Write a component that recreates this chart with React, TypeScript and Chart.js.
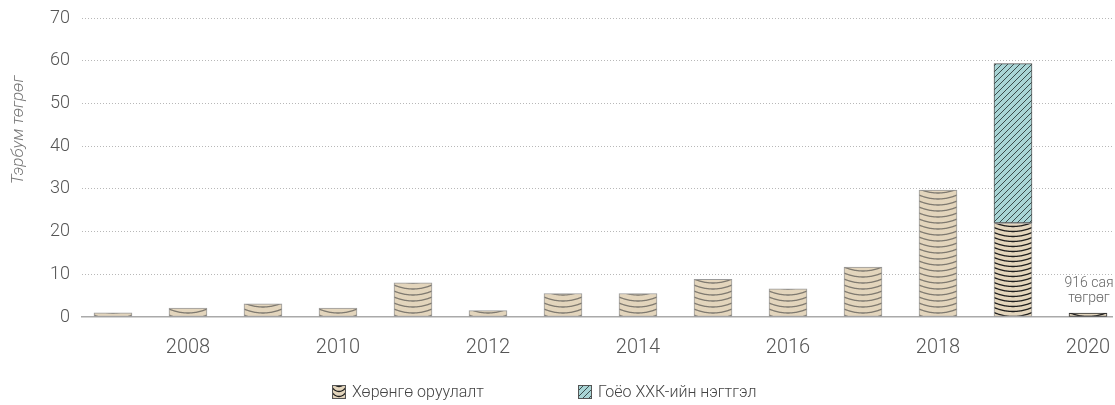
import React, { useEffect, useRef } from 'react';
import { Chart, registerables } from 'chart.js';

Chart.register(...registerables);

// ---- data ----
const years: number[] = [2007, 2008, 2009, 2010, 2011, 2012, 2013, 2014, 2015, 2016, 2017, 2018, 2019, 2020];
const investmentValues: number[] = [1.0, 2.1, 3.1, 2.1, 8.0, 1.5, 5.5, 5.5, 8.8, 6.6, 11.7, 29.7, 22.0, 0.916];
const mergerValues: (number | null)[] = [null, null, null, null, null, null, null, null, null, null, null, null, 37.3, null];
const xTickYears: number[] = [2008, 2010, 2012, 2014, 2016, 2018, 2020];
const yTickValues: number[] = [0, 10, 20, 30, 40, 50, 60, 70];
const highlightYears: number[] = [2019, 2020];
const seriesLabels: string[] = ['Хөрөнгө оруулалт', 'Гоёо ХХК-ийн нэгтгэл'];
const yAxisTitle = 'Тэрбум төгрөг';
const noteYear = 2020;
const noteLines: string[] = ['916 сая', 'төгрөг'];

// ---- style ----
const FONT = 'Roboto, "Noto Sans", sans-serif';
const BEIGE = '#e3d5bc';
const TEAL = '#a9d5d6';
const BAR_W = 38;

function makeWood(ctx: CanvasRenderingContext2D, dark: boolean, w = BAR_W): CanvasPattern {
  const H = dark ? 5 : 6;
  const c = document.createElement('canvas');
  c.width = w;
  c.height = H;
  const g = c.getContext('2d')!;
  g.fillStyle = BEIGE;
  g.fillRect(0, 0, w, H);
  g.strokeStyle = dark ? '#1e1e1e' : '#7f7a70';
  g.lineWidth = 1.3;
  const sag = 4;
  for (let k = -3; k <= 2; k++) {
    g.beginPath();
    for (let i = 0; i <= w; i++) {
      const t = i / w;
      const y = k * H + sag * (1 - (2 * t - 1) * (2 * t - 1)) + H / 2;
      if (i === 0) g.moveTo(i, y);
      else g.lineTo(i, y);
    }
    g.stroke();
  }
  return ctx.createPattern(c, 'repeat')!;
}

function makeHatch(ctx: CanvasRenderingContext2D): CanvasPattern {
  const S = 6;
  const c = document.createElement('canvas');
  c.width = S;
  c.height = S;
  const g = c.getContext('2d')!;
  g.fillStyle = TEAL;
  g.fillRect(0, 0, S, S);
  g.strokeStyle = '#2f3c3c';
  g.lineWidth = 0.9;
  g.beginPath();
  g.moveTo(-S, 2 * S); g.lineTo(2 * S, -S);
  g.moveTo(-S, S); g.lineTo(S, -S);
  g.moveTo(0, 2 * S); g.lineTo(2 * S, 0);
  g.stroke();
  return ctx.createPattern(c, 'repeat')!;
}

function alignedPattern(p: CanvasPattern, px: number): CanvasPattern {
  try {
    p.setTransform(new DOMMatrix().translate(Math.round(px - BAR_W / 2), 0));
  } catch (e) { /* ignore */ }
  return p;
}

const overlayPlugin = {
  id: 'overlay',
  afterDraw(chart: any) {
    const ctx: CanvasRenderingContext2D = chart.ctx;
    const xs = chart.scales.x;
    const ys = chart.scales.y;
    // note above 2020 bar
    const idx = years.indexOf(noteYear);
    const nx = xs.getPixelForValue(noteYear);
    const ny = ys.getPixelForValue(investmentValues[idx]);
    ctx.save();
    ctx.font = `300 14px ${FONT}`;
    ctx.fillStyle = '#666';
    ctx.textAlign = 'center';
    ctx.textBaseline = 'middle';
    ctx.fillText(noteLines[0], nx + 1, ny - 30);
    ctx.fillText(noteLines[1], nx + 1, ny - 15);
    ctx.restore();

    // y axis title
    ctx.save();
    ctx.translate(19, 130);
    ctx.rotate(-Math.PI / 2);
    ctx.font = `italic 300 17px ${FONT}`;
    ctx.fillStyle = '#777';
    ctx.textAlign = 'center';
    ctx.textBaseline = 'middle';
    ctx.fillText(yAxisTitle, 0, 0);
    ctx.restore();

    // legend
    const items = [
      { x: 332, pat: makeWood(ctx, true, 14) },
      { x: 578, pat: makeHatch(ctx) },
    ];
    ctx.save();
    items.forEach((it, i) => {
      const by = 385;
      try { it.pat.setTransform(new DOMMatrix().translate(it.x, by)); } catch (e) { /* */ }
      ctx.fillStyle = it.pat;
      ctx.fillRect(it.x, by, 14, 14);
      ctx.strokeStyle = '#555';
      ctx.lineWidth = 1;
      ctx.strokeRect(it.x + 0.5, by + 0.5, 13, 13);
      ctx.font = `300 16px ${FONT}`;
      ctx.fillStyle = '#444';
      ctx.textAlign = 'left';
      ctx.textBaseline = 'middle';
      ctx.fillText(seriesLabels[i], it.x + 20, by + 7.5);
    });
    ctx.restore();
  },
};

export default function App() {
  const ref = useRef<HTMLCanvasElement | null>(null);

  useEffect(() => {
    if (!ref.current) return;
    const investmentPoints = years.map((y, i) => ({ x: y, y: investmentValues[i] }));
    const mergerPoints = years
      .map((y, i) => ({ x: y, y: mergerValues[i] }))
      .filter((p) => p.y !== null);

    const chart = new Chart(ref.current, {
      type: 'bar',
      data: {
        datasets: [
          {
            label: seriesLabels[0],
            data: investmentPoints as any,
            barThickness: BAR_W,
            borderWidth: 1,
            borderSkipped: false,
            borderColor: (c: any) => {
              const yr = c.raw && c.raw.x;
              return yr === 2020 ? '#333' : '#9a9a9a';
            },
            backgroundColor: (c: any) => {
              if (!c.raw) return BEIGE;
              const yr = c.raw.x;
              const xs = c.chart.scales.x;
              const p = makeWood(c.chart.ctx, highlightYears.includes(yr));
              return xs ? alignedPattern(p, xs.getPixelForValue(yr)) : p;
            },
          },
          {
            label: seriesLabels[1],
            data: mergerPoints as any,
            barThickness: BAR_W,
            borderWidth: 1,
            borderSkipped: false,
            borderColor: '#555',
            backgroundColor: (c: any) => {
              if (!c.raw) return TEAL;
              const xs = c.chart.scales.x;
              const p = makeHatch(c.chart.ctx);
              return xs ? alignedPattern(p, xs.getPixelForValue(c.raw.x)) : p;
            },
          },
        ],
      },
      options: {
        animation: false,
        responsive: true,
        maintainAspectRatio: false,
        layout: { padding: { top: 18, right: 3, bottom: 0, left: 0 } },
        plugins: {
          legend: { display: false },
          tooltip: { enabled: false },
        },
        scales: {
          x: {
            type: 'linear',
            stacked: true,
            offset: false,
            min: 2006.587,
            max: 2020.32,
            afterFit: (s: any) => { s.height = 88; s.paddingLeft = 0; s.paddingRight = 0; },
            afterBuildTicks: (s: any) => { s.ticks = xTickYears.map((v) => ({ value: v })); },
            ticks: {
              includeBounds: false,
              stepSize: 2,
              padding: 19,
              color: '#555',
              font: { family: FONT, size: 20, weight: '300' as any },
              callback: (v: any) => String(v),
              maxRotation: 0,
            },
            grid: { display: false, drawTicks: false, offset: false },
            border: { display: true, color: '#aaa', width: 1.5 },
          },
          y: {
            stacked: true,
            min: 0,
            max: 70,
            afterFit: (s: any) => { s.width = 82; s.paddingTop = 0; s.paddingBottom = 0; },
            afterBuildTicks: (s: any) => { s.ticks = yTickValues.map((v) => ({ value: v })); },
            ticks: {
              stepSize: 10,
              padding: 12,
              color: '#555',
              font: { family: FONT, size: 18, weight: '300' as any },
            },
            grid: {
              drawTicks: false,
              color: (c: any) => (c.tick && c.tick.value === 0 ? 'rgba(0,0,0,0)' : '#b8b8b8'),
              lineWidth: 1,
            },
            border: { display: false, dash: [1, 2] },
          },
        },
      },
      plugins: [overlayPlugin],
    });
    return () => chart.destroy();
  }, []);

  return (
    <div style={{ position: 'absolute', left: 0, top: 0, width: 1115, height: 405, background: '#fff' }}>
      <canvas ref={ref} />
    </div>
  );
}
